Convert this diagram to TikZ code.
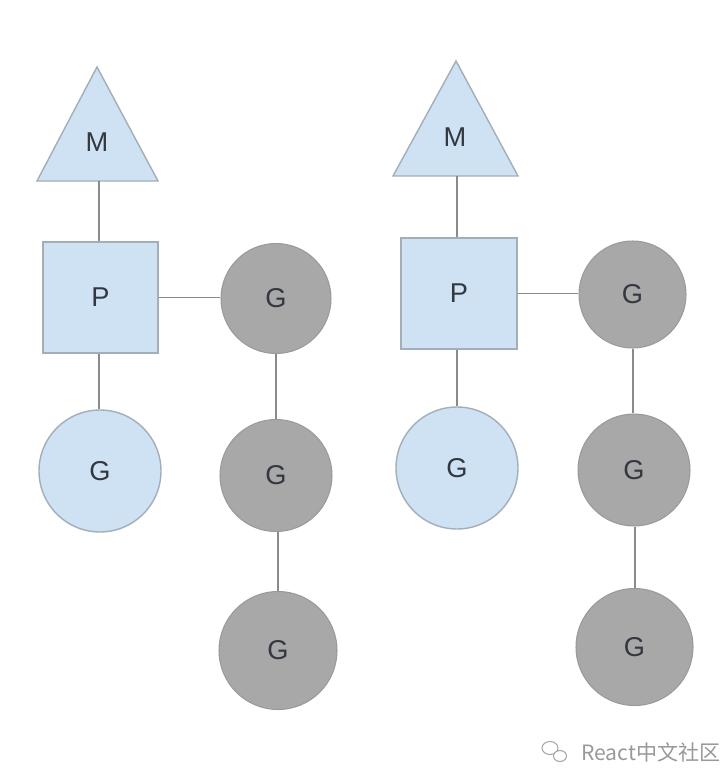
\documentclass[tikz,border=0pt]{standalone}
\usepackage{fontspec}
\setmainfont{Liberation Sans}
\newfontfamily\cjk{Noto Sans CJK SC}
\definecolor{pblue}{HTML}{CFE2F3}
\definecolor{pedge}{HTML}{A3AEB8}
\definecolor{ggrey}{HTML}{A8A8A8}
\definecolor{gedge}{HTML}{9A9A9A}
\definecolor{wire}{HTML}{8A8A8A}
\definecolor{ink}{HTML}{333840}
\begin{document}
\begin{tikzpicture}[x=0.02cm,y=-0.02cm]
\tikzstyle{every node}+=[inner sep=0pt,text=ink,font=\fontsize{15.5}{18}\selectfont]
\tikzstyle{proc}=[draw=pedge,line width=0.8pt,fill=pblue,rectangle]
\tikzstyle{gblue}=[draw=pedge,line width=0.8pt,fill=pblue,circle]
\tikzstyle{ggray}=[draw=gedge,line width=0.6pt,fill=ggrey,circle]
\tikzstyle{link}=[wire,line width=1.1pt]
\useasboundingbox [fill=white] (0,0) rectangle (720,784);
\draw [proc] (97,67) -- (158,181) -- (37,181) -- cycle;
\node (m1) at (97,142) {M};
\coordinate (m1b) at (99,181);
\node [proc,minimum width=2.3cm,minimum height=2.22cm] (p1) at (100.5,297.5) {P};
\node [gblue,minimum size=2.44cm] (g1) at (100,471) {G};
\node [ggray,minimum size=2.2cm] (r1) at (276,298.5) {G};
\node [ggray,minimum size=2.24cm] (r2) at (276,475.5) {G};
\node [ggray,minimum size=2.36cm] (r3) at (278,650.5) {G};
\draw [link] (m1b) -- (m1b |- p1.north);
\draw [link] (p1.south -| 99,0) -- (g1.north -| 99,0);
\draw [link] (p1.east) -- (p1.east -| r1.west);
\draw [link] (r1.south) -- (r2.north);
\draw [link] (r2.south -| 278,0) -- (r3.north);
\draw [proc] (456,61) -- (518,176) -- (393,176) -- cycle;
\node (m2) at (455,137) {M};
\coordinate (m2b) at (457,176);
\node [proc,minimum width=2.32cm,minimum height=2.22cm] (p2) at (459,293.5) {P};
\node [gblue,minimum size=2.44cm] (g2) at (457,468) {G};
\node [ggray,minimum size=2.14cm] (s1) at (632.5,294.5) {G};
\node [ggray,minimum size=2.24cm] (s2) at (634,470) {G};
\node [ggray,minimum size=2.34cm] (s3) at (634.5,647) {G};
\draw [link] (m2b) -- (m2b |- p2.north);
\draw [link] (p2.south -| 457,0) -- (g2.north -| 457,0);
\draw [link] (p2.east) -- (p2.east -| s1.west);
\draw [link] (s1.south -| 633,0) -- (s2.north -| 633,0);
\draw [link] (s2.south -| 635,0) -- (s3.north -| 635,0);
\draw [gray!70,line width=0.6pt,fill=white] (550,748) ellipse (8 and 6.5);
\draw [gray!70,line width=0.6pt,fill=white] (560,756) ellipse (6.5 and 5.5);
\node [text=gray!80,font=\cjk\fontsize{12}{14}\selectfont] (wm) at (651,752) {React中文社区};
\end{tikzpicture}
\end{document}
